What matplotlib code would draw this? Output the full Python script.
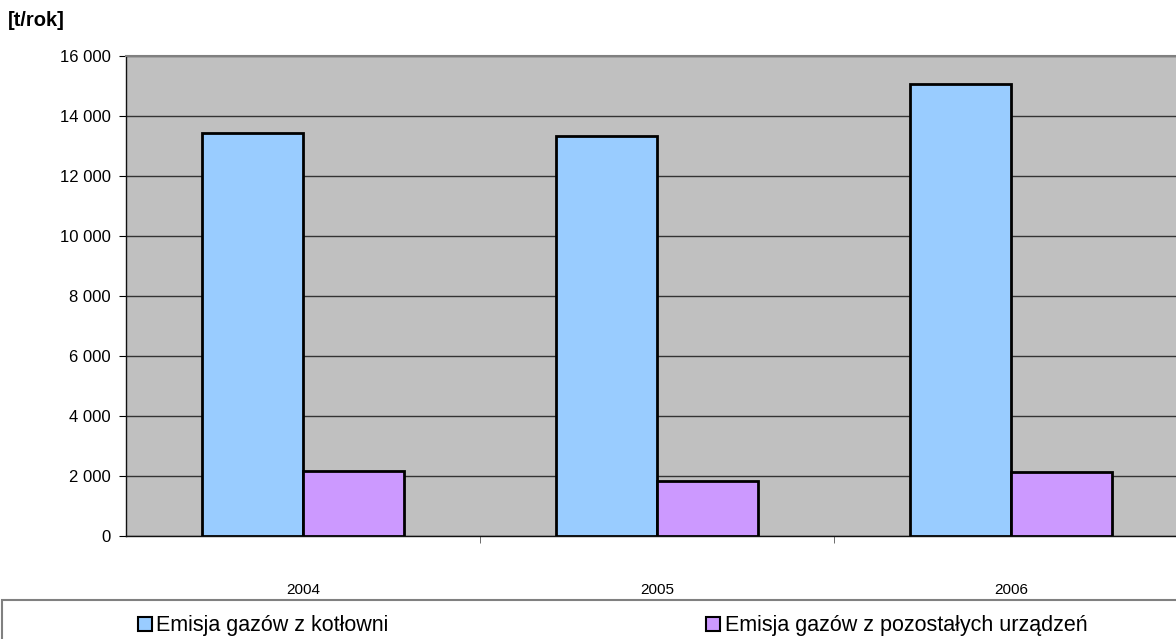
import matplotlib.pyplot as plt
import numpy as np
from matplotlib.patches import Patch, Rectangle
from matplotlib.ticker import FuncFormatter

plt.rcParams['font.family'] = ['Liberation Sans', 'DejaVu Sans']

# emissions per year [t/rok]
years = ['2004', '2005', '2006']
kotlownia = [13450, 13350, 15070]
pozostale = [2160, 1850, 2120]
series_names = ['Emisja gazów z kotłowni', 'Emisja gazów z pozostałych urządzeń']

fig = plt.figure(figsize=(11.76, 6.39), dpi=100)
# plot area runs past the right edge of the figure
ax = fig.add_axes([126 / 1176, 1 - 536 / 639, 1062 / 1176, 480 / 639])
ax.set_facecolor('#C0C0C0')

x = np.arange(len(years))
w = 0.286
ax.bar(x - w / 2, kotlownia, w, color='#99CCFF', edgecolor='black', linewidth=2, zorder=3)
ax.bar(x + w / 2, pozostale, w, color='#CC99FF', edgecolor='black', linewidth=2, zorder=3)

ax.set_xlim(-0.5, 2.5)
ax.set_ylim(0, 16000)
ax.set_yticks(np.arange(0, 16001, 2000))
ax.yaxis.set_major_formatter(FuncFormatter(lambda v, p: f'{int(v):,}'.replace(',', ' ')))
ax.grid(axis='y', color='#333333', linewidth=1, zorder=1)

ax.set_xticks(x)
ax.set_xticklabels(years)
ax.tick_params(axis='x', which='major', length=0, pad=34, labelsize=11)
ax.set_xticks([0.5, 1.5], minor=True)
ax.tick_params(axis='x', which='minor', length=5, color='#555555', direction='out')
ax.tick_params(axis='y', length=5, labelsize=12, pad=6)

for s in ['left', 'bottom']:
    ax.spines[s].set_color('#111111')
    ax.spines[s].set_linewidth(1)
ax.spines['top'].set_color('#808080')
ax.spines['top'].set_linewidth(1.5)
ax.spines['right'].set_visible(False)

fig.text(8 / 1176, 1 - 20 / 639, '[t/rok]', fontsize=14.5, fontweight='bold', va='center', ha='left')

# legend box along the bottom
fig.patches.append(Rectangle((2 / 1176, -0.05), 1.1, 1 - 600 / 639 + 0.05,
                             transform=fig.transFigure, facecolor='white',
                             edgecolor='#808080', linewidth=1.5))
handles = [Patch(facecolor='#99CCFF', edgecolor='black', linewidth=1.5),
           Patch(facecolor='#CC99FF', edgecolor='black', linewidth=1.5)]
fig.legend(handles, series_names, loc='center left', bbox_to_anchor=(138 / 1176, 1 - 626 / 639),
           ncol=2, frameon=False, fontsize=15.5, handlelength=0.65, handleheight=0.65,
           handletextpad=0.2, columnspacing=14.75, borderaxespad=0, borderpad=0)

fig.savefig('out.png', dpi=100)
